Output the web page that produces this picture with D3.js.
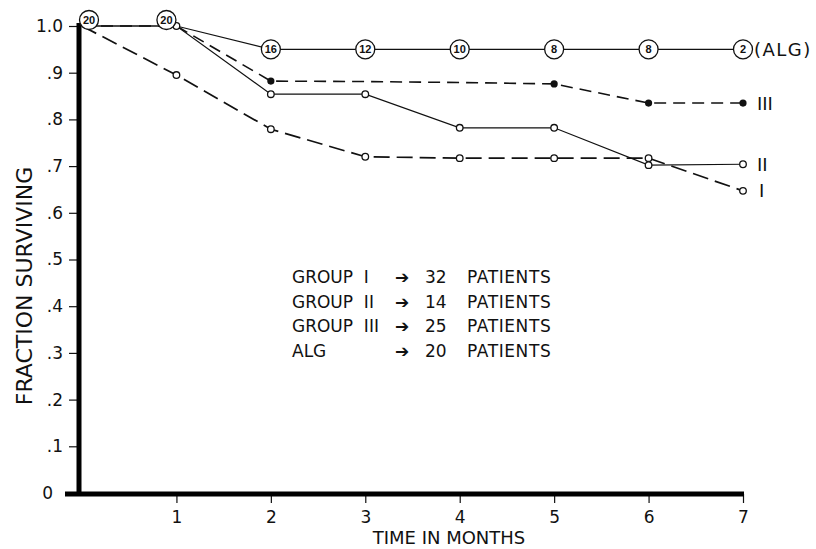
<!DOCTYPE html>
<html>
<head>
<meta charset="utf-8">
<script src="https://cdn.jsdelivr.net/npm/d3@7"></script>
<style>
  body { margin: 0; background: #fff; }
  svg { display: block; font-family: 'DejaVu Sans', sans-serif; }
  .tick text { font-family: 'DejaVu Sans', sans-serif; }
</style>
</head>
<body>
<svg id="chart"></svg>
<script>
// survival fractions, months 0..7
const months = [0, 1, 2, 3, 4, 5, 6, 7]
const algSurv = [1, 1, 0.95, 0.95, 0.95, 0.95, 0.95, 0.95]
const algAtRisk = [20, 20, 16, 12, 10, 8, 8, 2]
const group1 = [1, 0.895, 0.779, 0.72, 0.717, 0.717, 0.717, 0.647]
const group2 = [1, 1, 0.854, 0.854, 0.782, 0.782, 0.702, 0.704]
const group3 = [1, 1, 0.882, 0.881, 0.879, 0.876, 0.835, 0.835]
const group3Marked = [2, 5, 6, 7]

const legendGroups = ['GROUP  I', 'GROUP  II', 'GROUP  III', 'ALG']
const legendPatients = [32, 14, 25, 20]

const yTicks = [0, 0.1, 0.2, 0.3, 0.4, 0.5, 0.6, 0.7, 0.8, 0.9, 1]
const xTicks = [1, 2, 3, 4, 5, 6, 7]

const width = 816
const height = 549

const svg = d3.select('#chart')
  .attr('width', width)
  .attr('height', height)

svg.append('rect').attr('width', width).attr('height', height).attr('fill', '#fff')

const x = d3.scaleLinear().domain([0, 7]).range([82, 743])
const y = d3.scaleLinear().domain([0, 1]).range([493, 26])

const axisX = 79
const axisY = 494

// y axis
const yAxis = svg.append('g')
  .attr('transform', `translate(${axisX},0)`)
  .call(d3.axisLeft(y)
    .tickValues(yTicks)
    .tickSize(10)
    .tickSizeOuter(0)
    .tickPadding(6)
    .tickFormat((d) => d === 1 ? '1.0' : d === 0 ? '0' : '.' + Math.round(d * 10)))
yAxis.select('.domain').remove()
yAxis.selectAll('.tick line').attr('stroke', '#111').attr('stroke-width', 1.2)
yAxis.selectAll('.tick text').attr('font-size', 17).attr('fill', '#111')
yAxis.selectAll('.tick').filter((d) => d === 0).select('text').attr('dx', -10)

// x axis
const xAxis = svg.append('g')
  .attr('transform', `translate(0,${axisY})`)
  .call(d3.axisBottom(x)
    .tickValues(xTicks)
    .tickSize(9)
    .tickSizeOuter(0)
    .tickPadding(8)
    .tickFormat(d3.format('d')))
xAxis.select('.domain').remove()
xAxis.selectAll('.tick line').attr('stroke', '#111').attr('stroke-width', 1.2)
xAxis.selectAll('.tick text').attr('font-size', 17).attr('fill', '#111')

// heavy axis bars
svg.append('line')
  .attr('x1', axisX).attr('x2', axisX)
  .attr('y1', y(1) - 3).attr('y2', axisY + 2)
  .attr('stroke', '#000').attr('stroke-width', 5)
svg.append('line')
  .attr('x1', 65).attr('x2', x(7) + 1)
  .attr('y1', axisY).attr('y2', axisY)
  .attr('stroke', '#000').attr('stroke-width', 5)

// axis titles
svg.append('text')
  .attr('transform', `translate(32,286) rotate(-90)`)
  .attr('text-anchor', 'middle')
  .attr('font-size', 22)
  .attr('fill', '#111')
  .text('FRACTION SURVIVING')

svg.append('text')
  .attr('x', 449).attr('y', 544)
  .attr('text-anchor', 'middle')
  .attr('font-size', 18)
  .attr('fill', '#111')
  .text('TIME IN MONTHS')

const line = d3.line()
  .x((d) => x(d.t))
  .y((d) => y(d.v))

const toPts = (vals) => vals.map((v, i) => ({ t: months[i], v }))

const series = [
  { vals: group1, dash: '16,7', width: 1.7 },
  { vals: group3, dash: '12,7', width: 1.6 },
  { vals: group2, dash: null, width: 1.2 },
  { vals: algSurv, dash: null, width: 1.2 },
]

series.forEach((s) => {
  svg.append('path')
    .datum(toPts(s.vals))
    .attr('fill', 'none')
    .attr('stroke', '#111')
    .attr('stroke-width', s.width)
    .attr('stroke-dasharray', s.dash)
    .attr('d', line)
})

// open circle markers, groups I and II
const openPts = toPts(group1).slice(1).concat(toPts(group2).slice(1))
svg.append('g').selectAll('circle')
  .data(openPts)
  .join('circle')
    .attr('cx', (d) => x(d.t))
    .attr('cy', (d) => y(d.v))
    .attr('r', 3.3)
    .attr('fill', '#fff')
    .attr('stroke', '#111')
    .attr('stroke-width', 1.3)

// filled markers, group III
svg.append('g').selectAll('circle')
  .data(toPts(group3).filter((d) => group3Marked.includes(d.t)))
  .join('circle')
    .attr('cx', (d) => x(d.t))
    .attr('cy', (d) => y(d.v))
    .attr('r', 3.6)
    .attr('fill', '#111')

// ALG numbered circles (first two nudged off the other curves)
const nudge = (t) => t === 0 ? [7, -6] : t === 1 ? [-10, -6] : [0, 0]
const badges = svg.append('g').selectAll('g')
  .data(toPts(algSurv).map((d, i) => ({ ...d, n: algAtRisk[i] })))
  .join('g')
    .attr('transform', (d) => `translate(${x(d.t) + nudge(d.t)[0]},${y(d.v) + nudge(d.t)[1]})`)
badges.append('circle')
  .attr('r', 9.5)
  .attr('fill', '#fff')
  .attr('stroke', '#111')
  .attr('stroke-width', 1.3)
badges.append('text')
  .attr('text-anchor', 'middle')
  .attr('dy', '0.36em')
  .attr('font-family', "'Liberation Sans Narrow', 'Liberation Sans', sans-serif")
  .attr('font-weight', 'bold')
  .attr('font-size', 11)
  .attr('fill', '#111')
  .text((d) => d.n)

// curve labels at right
const endLabels = [
  { text: '(ALG)', v: algSurv[7], dx: 11, size: 18, spacing: 1.5 },
  { text: 'III', v: group3[7], dx: 14, size: 18, spacing: 0 },
  { text: 'II', v: group2[7], dx: 14, size: 18, spacing: 0 },
  { text: 'I', v: group1[7], dx: 16, size: 18, spacing: 0 },
]
svg.append('g').selectAll('text')
  .data(endLabels)
  .join('text')
    .attr('x', (d) => x(7) + d.dx)
    .attr('y', (d) => y(d.v))
    .attr('dy', '0.36em')
    .attr('font-size', (d) => d.size)
    .attr('letter-spacing', (d) => d.spacing)
    .attr('fill', '#111')
    .text((d) => d.text)

// legend block
const legend = svg.append('g').attr('font-size', 17).attr('fill', '#111')
const rowY = (i) => 283 + i * 24.6
legendGroups.forEach((g, i) => {
  legend.append('text').attr('x', 292).attr('y', rowY(i)).attr('xml:space', 'preserve').text(g)
  legend.append('text').attr('x', 402).attr('y', rowY(i)).attr('text-anchor', 'middle').text('➔')
  legend.append('text').attr('x', 425).attr('y', rowY(i)).text(legendPatients[i])
  legend.append('text').attr('x', 467).attr('y', rowY(i)).attr('letter-spacing', 0.6).text('PATIENTS')
})
</script>
</body>
</html>
